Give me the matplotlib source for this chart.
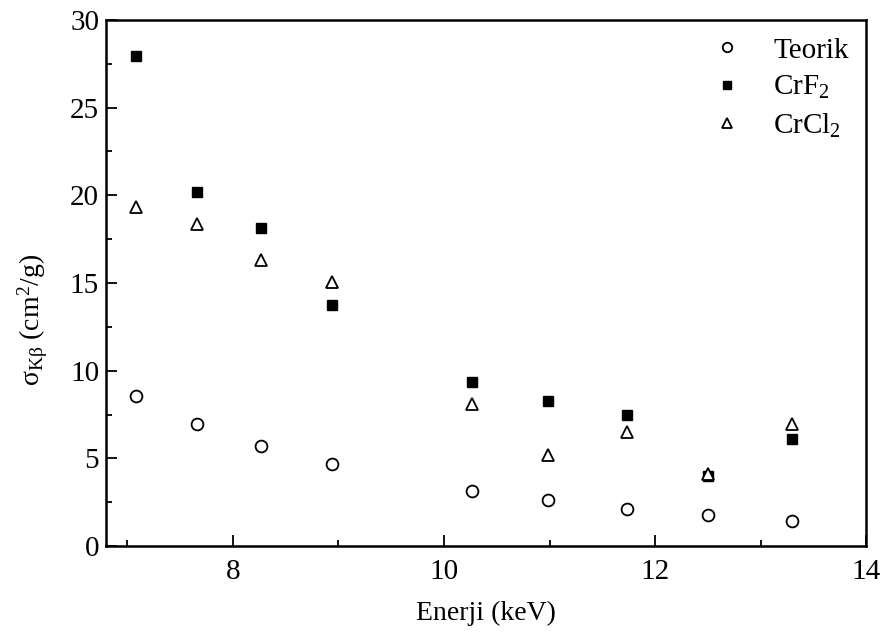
import matplotlib
matplotlib.use("Agg")
import matplotlib.pyplot as plt
from matplotlib.ticker import MultipleLocator

plt.rcParams["font.family"] = ["Liberation Serif", "DejaVu Serif"]
plt.rcParams["mathtext.fontset"] = "custom"
plt.rcParams["mathtext.rm"] = "Liberation Serif"
plt.rcParams["mathtext.it"] = "Liberation Serif:italic"

energy = [7.08, 7.66, 8.27, 8.94, 10.27, 10.99, 11.73, 12.50, 13.30]
teorik = [8.53, 6.95, 5.71, 4.69, 3.16, 2.61, 2.13, 1.77, 1.43]
crf2 = [27.96, 20.19, 18.15, 13.73, 9.35, 8.25, 7.45, 3.98, 6.13]
crcl2 = [19.35, 18.34, 16.30, 15.05, 8.11, 5.20, 6.53, 4.11, 6.95]

fig = plt.figure(figsize=(8.84, 6.38), dpi=100)
ax = fig.add_axes([0.12, 0.144, 0.86, 0.825])

ax.plot(energy, teorik, "o", mfc="white", mec="black", mew=1.3, ms=8.5, ls="none", label="Teorik")
ax.plot(energy, crf2, "s", mfc="black", mec="black", ms=7, ls="none", label=r"CrF$_{\mathrm{2}}$")
ax.plot(energy, crcl2, "^", mfc="white", mec="black", mew=1.3, ms=9, ls="none", label=r"CrCl$_{\mathrm{2}}$")

ax.set_xlim(6.8, 14)
ax.set_ylim(0, 30)
ax.xaxis.set_major_locator(MultipleLocator(2))
ax.xaxis.set_minor_locator(MultipleLocator(1))
ax.yaxis.set_major_locator(MultipleLocator(5))
ax.yaxis.set_minor_locator(MultipleLocator(2.5))
ax.tick_params(which="both", direction="in", top=False, right=False, labelsize=21, width=1.3)
ax.tick_params(which="major", length=8)
ax.tick_params(which="minor", length=4)
ax.tick_params(axis="x", pad=9)
ax.tick_params(axis="y", pad=5)
for s in ax.spines.values():
    s.set_linewidth(1.8)

ax.set_xlabel("Enerji (keV)", fontsize=20, labelpad=12)
ax.set_ylabel(r"σ$_{\mathrm{Kβ}}$ (cm$^{\mathrm{2}}$/g)", fontsize=20, labelpad=14, y=0.43)

ax.legend(loc="upper right", frameon=False, fontsize=21, handletextpad=0.6,
          labelspacing=0.35, borderaxespad=0.2, markerscale=0.8)

fig.savefig("out.png", dpi=100)
